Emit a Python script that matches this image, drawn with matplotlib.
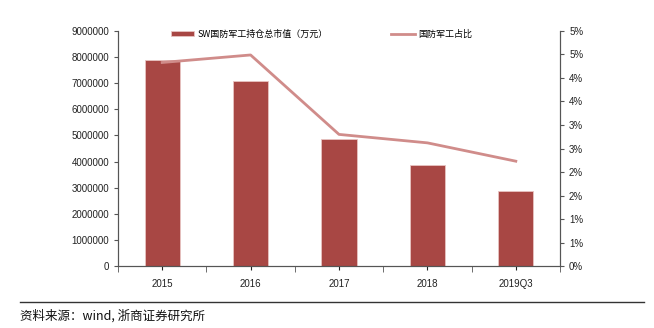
import matplotlib.pyplot as plt
from matplotlib.ticker import FuncFormatter, MultipleLocator
import numpy as np

plt.rcParams['font.family'] = ['Liberation Sans', 'Noto Sans CJK SC']

years = ['2015', '2016', '2017', '2018', '2019Q3']
market_value = [7890000, 7090000, 4860000, 3870000, 2870000]
share = [0.0433, 0.0449, 0.0280, 0.0262, 0.0223]

bar_color = '#A84744'
line_color = '#D08C8A'

fig = plt.figure(figsize=(6.54, 3.28), dpi=100)
ax = fig.add_axes([0.1804, 0.189, 0.6759, 0.7165])
ax2 = ax.twinx()

x = np.arange(len(years))
bars = ax.bar(x, market_value, width=0.4, color=bar_color, edgecolor='#E8C4C2', linewidth=0.6,
              label='SW国防军工持仓总市值（万元）', zorder=2)
line, = ax2.plot(x, share, color=line_color, lw=2.0, label='国防军工占比', zorder=3)

ax.set_xlim(-0.5, len(years) - 0.5)
ax.set_ylim(0, 9000000)
ax.yaxis.set_major_locator(MultipleLocator(1000000))
ax.yaxis.set_major_formatter(FuncFormatter(lambda v, p: '%d' % v))
ax2.set_ylim(0, 0.05)
ax2.yaxis.set_major_locator(MultipleLocator(0.005))
ax2.yaxis.set_major_formatter(FuncFormatter(lambda v, p: '%d%%' % int(v * 100 + 0.5 + 1e-9)))

ax.set_xticks(x)
ax.set_xticklabels(years)
ax.set_xticks(np.arange(-0.5, len(years)), minor=True)
ax.tick_params(axis='x', which='major', length=0, pad=6)
ax.tick_params(axis='x', which='minor', length=4, direction='out', color='#555555')

for a in (ax, ax2):
    a.spines['top'].set_visible(False)
    for s in ('left', 'right', 'bottom'):
        a.spines[s].set_color('#555555')
        a.spines[s].set_linewidth(0.8)
    a.tick_params(labelsize=7, colors='#222222', length=3, width=0.8)
ax.tick_params(axis='y', color='#555555')
ax2.tick_params(axis='y', color='#555555')
ax.tick_params(axis='x', which='minor', color='#555555')

fig.legend([bars, line], ['SW国防军工持仓总市值（万元）', '国防军工占比'],
           loc='upper left', bbox_to_anchor=(0.249, 0.935), ncol=2, frameon=False,
           prop={'family': ['Noto Sans CJK SC'], 'size': 6.5},
           handlelength=2.6, handleheight=0.5, columnspacing=7, handletextpad=0.4)

# source note under a rule
fig.add_artist(plt.Line2D([0.03, 0.985], [0.08, 0.08], color='#333333', lw=1.0))
fig.text(0.03, 0.025, '资料来源：wind, 浙商证券研究所', fontsize=9,
         family=['Noto Sans CJK SC'], color='#111111')

fig.savefig('out.png', dpi=100)
